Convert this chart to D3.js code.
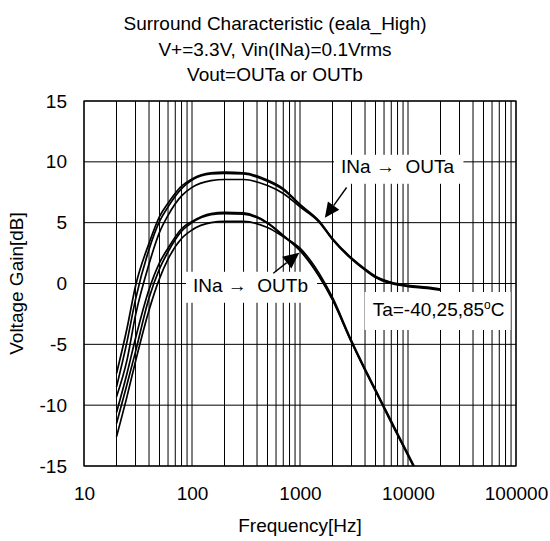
<!DOCTYPE html>
<html>
<head>
<meta charset="utf-8">
<script src="https://cdn.jsdelivr.net/npm/d3@7"></script>
<style>
  body { margin: 0; background: #fff; }
  text { font-family: Arial, 'Liberation Sans', sans-serif; font-size: 19px; fill: #000; }
</style>
</head>
<body>
<div id="chart"></div>
<script>
'use strict'

// frequencies [Hz]
const freqs = [20, 25, 30, 40, 50, 60, 80, 100, 150, 200, 300, 500, 700, 1000, 1500, 2000, 3000, 4000, 5000, 7000, 10000, 15000, 20000]

// INa -> OUTa, three temperatures [dB]
const outA1 = [-7.4, -3.7, -0.2, 3.3, 5.5, 6.6, 8.0, 8.6, 9.1, 9.15, 9.1, 8.5, 7.8, 6.5, 5.15, 3.7, 2.1, 1.2, 0.6, 0.1, -0.15, -0.3, -0.45]
const outA2 = [-8.5, -4.8, -1.3, 2.8, 5.1, 6.3, 7.8, 8.5, 9.0, 9.05, 9.0, 8.4, 7.7, 6.45, 5.1, 3.65, 2.05, 1.15, 0.55, 0.05, -0.2, -0.35, -0.5]
const outA3 = [-9.3, -6.3, -2.6, 1.6, 4.2, 5.6, 7.2, 7.9, 8.45, 8.55, 8.55, 8.05, 7.4, 6.3, 5.05, 3.6, 2.0, 1.1, 0.5, 0.0, -0.25, -0.4, -0.55]

// INa -> OUTb, three temperatures [dB]
const outB1 = [-10.6, -7.4, -4.5, -0.5, 1.7, 2.9, 4.5, 5.1, 5.75, 5.85, 5.8, 5.0, 3.95, 2.75, 0.65, -1.3, -4.8, -7.1, -8.8, -11.4, -14.1, -17.2, -19.4]
const outB2 = [-11.5, -8.3, -5.6, -1.2, 1.2, 2.6, 4.3, 5.0, 5.65, 5.75, 5.7, 4.95, 3.9, 2.7, 0.6, -1.35, -4.85, -7.15, -8.85, -11.45, -14.15, -17.25, -19.45]
const outB3 = [-12.6, -9.3, -6.4, -2.2, 0.4, 2.0, 3.7, 4.4, 5.0, 5.1, 5.1, 4.6, 3.85, 2.9, 0.85, -1.15, -4.7, -7.0, -8.7, -11.3, -14.0, -17.1, -19.3]

const xTicks = [10, 100, 1000, 10000, 100000]
const yTicks = [-15, -10, -5, 0, 5, 10, 15]
const titleLines = ['Surround Characteristic (eala_High)', 'V+=3.3V, Vin(INa)=0.1Vrms', 'Vout=OUTa or OUTb']

const width = 550
const height = 541
const margin = { top: 101, right: 34, bottom: 75, left: 84 }

const svg = d3.select('#chart').append('svg')
  .attr('width', width)
  .attr('height', height)

const x = d3.scaleLog()
  .domain([10, 100000])
  .range([margin.left, width - margin.right])

const y = d3.scaleLinear()
  .domain([-15, 15])
  .range([height - margin.bottom, margin.top])

// grid
const vLines = []
for (let d = 10; d < 100000; d *= 10) {
  for (let k = 1; k <= 9; k++) vLines.push(d * k)
}
vLines.push(100000)

const grid = svg.append('g')
grid.selectAll('.vg')
  .data(vLines)
  .enter()
  .append('line')
  .attr('x1', d => x(d)).attr('x2', d => x(d))
  .attr('y1', y(-15)).attr('y2', y(15))
  .attr('stroke', '#000')
  .attr('stroke-width', 1)

grid.selectAll('.hg')
  .data(yTicks)
  .enter()
  .append('line')
  .attr('x1', x(10)).attr('x2', x(100000))
  .attr('y1', d => y(d)).attr('y2', d => y(d))
  .attr('stroke', '#000')
  .attr('stroke-width', 1)

svg.append('rect')
  .attr('x', x(10)).attr('y', y(15))
  .attr('width', x(100000) - x(10))
  .attr('height', y(-15) - y(15))
  .attr('fill', 'none')
  .attr('stroke', '#000')
  .attr('stroke-width', 1.2)

// axes (labels only), plain hyphen for negatives
const xAxis = svg.append('g')
  .attr('transform', `translate(0,${y(-15)})`)
  .call(d3.axisBottom(x).tickValues(xTicks).tickFormat(d => String(d)).tickSize(0).tickPadding(21))
const yAxis = svg.append('g')
  .attr('transform', `translate(${x(10)},0)`)
  .call(d3.axisLeft(y).tickValues(yTicks).tickFormat(d => String(d)).tickSize(0).tickPadding(17))
;[xAxis, yAxis].forEach(a => {
  a.select('.domain').remove()
  a.attr('font-size', null).attr('font-family', null)
  a.selectAll('text').attr('fill', '#000')
})

// labels boxes (white, hide grid behind text)
function label(txt, fx, dy, pad) {
  const g = svg.append('g')
  const t = g.append('text')
    .attr('x', x(fx))
    .attr('y', y(dy))
    .attr('text-anchor', 'middle')
  txt(t)
  const b = t.node().getBBox()
  g.insert('rect', 'text')
    .attr('x', b.x - pad[0])
    .attr('y', b.y - pad[1])
    .attr('width', b.width + pad[0] + pad[2])
    .attr('height', b.height + pad[1] + pad[3])
    .attr('fill', '#fff')
}

label(t => t.text('INa\u00a0\u2192\u00a0\u00a0OUTa'), 8000, 9.1, [7, 1, 9, 7])
label(t => t.text('INa\u00a0\u2192\u00a0\u00a0OUTb'), 348, -0.68, [7, 3, 9, 7])
label(t => {
  t.append('tspan').text('Ta=-40,25,85')
  t.append('tspan').attr('font-size', 12).attr('dy', -7).text('o')
  t.append('tspan').attr('dy', 7).text('C')
}, 19200, -2.67, [8, 6, 6, 10])

// curves
svg.append('clipPath').attr('id', 'plot-clip')
  .append('rect')
  .attr('x', x(10)).attr('y', y(15))
  .attr('width', x(100000) - x(10))
  .attr('height', y(-15) - y(15))

const line = d3.line()
  .x((d, i) => x(freqs[i]))
  .y(d => y(d))
  .curve(d3.curveMonotoneX)

svg.append('g')
  .attr('clip-path', 'url(#plot-clip)')
  .selectAll('path')
  .data([outA1, outA2, outA3, outB1, outB2, outB3])
  .enter()
  .append('path')
  .attr('d', line)
  .attr('fill', 'none')
  .attr('stroke', '#000')
  .attr('stroke-width', 1.7)

// arrows pointing from labels to curves
function arrow(f0, d0, f1, d1, len, half) {
  const x0 = x(f0), y0 = y(d0), x1 = x(f1), y1 = y(d1)
  const dx = x1 - x0, dy = y1 - y0
  const l = Math.sqrt(dx * dx + dy * dy)
  const ux = dx / l, uy = dy / l
  const bx = x1 - ux * len, by = y1 - uy * len
  svg.append('line')
    .attr('x1', x0).attr('y1', y0)
    .attr('x2', bx).attr('y2', by)
    .attr('stroke', '#000')
    .attr('stroke-width', 1.4)
  svg.append('polygon')
    .attr('points', [[x1, y1], [bx - uy * half, by + ux * half], [bx + uy * half, by - ux * half]].join(' '))
    .attr('fill', '#000')
}

arrow(2700, 7.89, 1700, 5.4, 15, 7)
arrow(566, 0.84, 985, 2.53, 16, 7.5)

// titles
svg.append('g').selectAll('text')
  .data(titleLines)
  .enter()
  .append('text')
  .attr('x', width / 2)
  .attr('y', (d, i) => 30 + i * 25.5)
  .attr('text-anchor', 'middle')
  .text(d => d)

svg.append('text')
  .attr('x', (x(10) + x(100000)) / 2)
  .attr('y', 532)
  .attr('text-anchor', 'middle')
  .text('Frequency[Hz]')

svg.append('text')
  .attr('transform', `translate(23,${(y(15) + y(-15)) / 2}) rotate(-90)`)
  .attr('text-anchor', 'middle')
  .text('Voltage Gain[dB]')
</script>
</body>
</html>
